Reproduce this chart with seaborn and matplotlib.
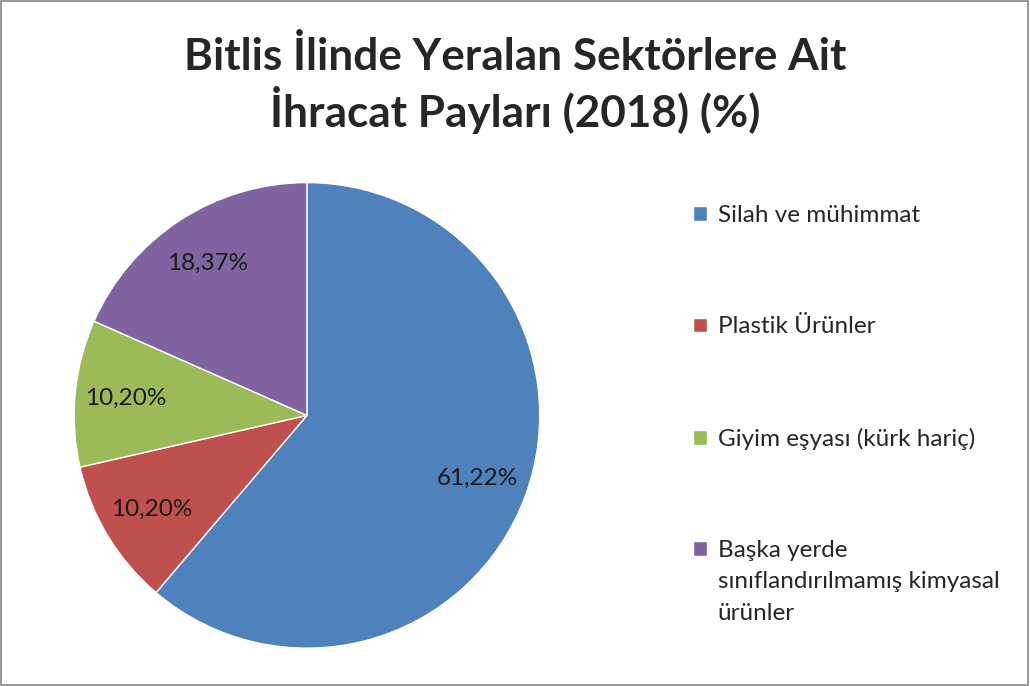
import matplotlib
matplotlib.use("Agg")
import matplotlib.pyplot as plt
import seaborn as sns
from matplotlib.patches import Rectangle

# data
sectors = ["Silah ve mühimmat", "Plastik Ürünler", "Giyim eşyası (kürk hariç)", "Başka yerde"]
last_label_rest = "sınıflandırılmamış kimyasal\nürünler"
shares = [61.22, 10.20, 10.20, 18.37]
colors = ["#4F81BD", "#C0504D", "#9BBB59", "#8064A2"]

sns.set_style("white")
plt.rcParams["font.family"] = ["Lato", "DejaVu Sans"]

fig = plt.figure(figsize=(10.3, 6.86), dpi=100)
fig.patches.append(Rectangle((0.001, 0.001), 0.997, 0.997, transform=fig.transFigure,
                             fill=False, edgecolor="#868686", linewidth=1.2))

fig.text(0.5, 0.876, "Bitlis İlinde Yeralan Sektörlere Ait\nİhracat Payları (2018) (%)",
         ha="center", va="center", fontsize=31.8, fontweight="bold", linespacing=1.22)

ax = fig.add_axes([0.072, 0.055, 0.452, 0.679])
pct = iter(shares)
wedges, texts, autotexts = ax.pie(
    shares, colors=sns.color_palette(colors), startangle=90, counterclock=False,
    autopct=lambda p: f"{next(pct):.2f}%".replace(".", ","), pctdistance=0.78,
    wedgeprops=dict(edgecolor="white", linewidth=1),
    textprops=dict(fontsize=17.5, color="#1a1a1a"))
ax.set_xlim(-1, 1)
ax.set_ylim(-1, 1)
ax.set_aspect("equal")

leg = fig.legend(wedges, sectors, loc="upper left", bbox_to_anchor=(0.652, 0.733),
                 frameon=False, fontsize=17.5, handlelength=0.55, handleheight=0.55,
                 handletextpad=0.45, labelspacing=3.72)

# continuation lines of the last legend label, under its first line
fig.canvas.draw()
last = leg.get_texts()[-1]
bb = last.get_window_extent().transformed(fig.transFigure.inverted())
fig.text(bb.x0, bb.y0 - 0.014, last_label_rest, ha="left", va="top",
         fontsize=17.5, linespacing=1.65)

fig.savefig("out.png", dpi=100)
